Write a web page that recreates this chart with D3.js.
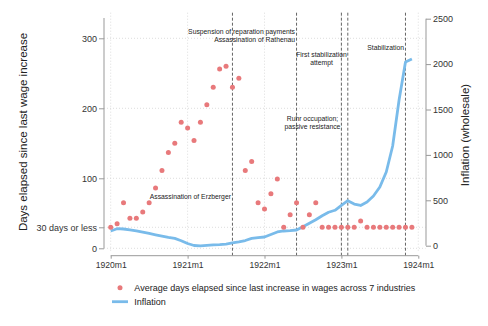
<!DOCTYPE html>
<html>
<head>
<meta charset="utf-8">
<script src="https://cdn.jsdelivr.net/npm/d3@7"></script>
<style>
  html, body { margin: 0; padding: 0; background: #fff; }
  svg { display: block; font-family: "Liberation Sans", Arial, sans-serif; }
</style>
</head>
<body>
<div id="chart"></div>
<script>
// ---------- data ----------
const months = d3.range(48).map(i => `${1920 + Math.floor(i / 12)}m${(i % 12) + 1}`);
const daysElapsed = [
  30, 35, 65, 43, 43, 52, 65, 86, 111, 137, 150, 180,
  172, 154, 180, 205, 230, 256, 260, 230, 243, 111, 124, 65,
  56, 78, 99, 30, 48, 65, 30, 48, 65, 30, 30, 30,
  30, 30, 30, 39, 30, 30, 30, 30, 30, 30, 30, 30
];
const inflation = [
  162, 187, 184, 174, 163, 150, 135, 120, 106, 92, 80, 55,
  24, 2, -3, 3, 8, 12, 18, 30, 42, 57, 80, 90,
  96, 123, 151, 162, 165, 173, 209, 247, 286, 330, 368, 390,
  445, 496, 459, 443, 481, 547, 646, 812, 1098, 1605, 2023, 2056
];
const xTickLabels = ["1920m1", "1921m1", "1922m1", "1923m1", "1924m1"];
const leftTicks = [0, 30, 100, 200, 300];
const leftTickLabels = ["0", "30 days or less", "100", "200", "300"];
const rightTicks = [0, 500, 1000, 1500, 2000, 2500];
const eventMonths = ["1921m8", "1922m6", "1923m1", "1923m2", "1923m11"];
const eventLabels = [
  ["Assassination of Erzberger"],
  ["Suspension of reparation payments", "Assassination of Rathenau"],
  ["Ruhr occupation;", "passive resistance"],
  ["First stabilization", "attempt"],
  ["Stabilization"]
];
const eventLabelDays = [74, 309, 185, 276, 287]; // vertical placement on the days axis
const legendLabels = ["Average days elapsed since last increase in wages across 7 industries", "Inflation"];

// ---------- layout ----------
const W = 488, H = 326;
const dotColor = "#E8797B", lineColor = "#79BBEA";
const svg = d3.select("#chart").append("svg").attr("width", W).attr("height", H);

const mIndex = m => { const [y, mm] = m.split("m").map(Number); return (y - 1920) * 12 + mm - 1; };

const x = d3.scaleLinear().domain([0, 48]).range([110.7, 418.3]);
const yL = d3.scaleLinear().domain([0, 300]).range([248.3, 38.3]);
const yR = d3.scaleLinear().domain([0, 2500]).range([245.7, 18.7]);
const plotTop = 12.7, plotLeft = 104, plotRight = 425.5, plotBottom = 252;

// gridlines
const grid = svg.append("g").attr("stroke", "#d4d4d4").attr("stroke-width", 0.8).attr("stroke-dasharray", "1,2");
grid.selectAll("line.h").data(leftTicks).join("line")
  .attr("x1", plotLeft).attr("x2", plotRight).attr("y1", d => yL(d)).attr("y2", d => yL(d));
grid.selectAll("line.v").data(xTickLabels).join("line")
  .attr("x1", d => x(mIndex(d))).attr("x2", d => x(mIndex(d))).attr("y1", plotTop).attr("y2", plotBottom);

// event lines
const ev = svg.append("g");
ev.selectAll("line").data(eventMonths).join("line")
  .attr("x1", d => x(mIndex(d))).attr("x2", d => x(mIndex(d)))
  .attr("y1", plotTop).attr("y2", 255.7)
  .attr("stroke", "#555").attr("stroke-width", 0.9).attr("stroke-dasharray", "3,2");

// event labels
const anchors = ["end", "end", "middle", "middle", "end"];
const fs = 6.8, lh = 7.5;
eventLabels.forEach((lines, i) => {
  const lx = x(mIndex(eventMonths[i]));
  const cy = yL(eventLabelDays[i]);
  const g = svg.append("text").attr("font-size", fs).attr("fill", "#222");
  const anchor = anchors[i];
  lines.forEach((t, j) => {
    g.append("tspan").attr("x", 0).attr("y", cy + j * lh + fs * 0.35).text(t);
  });
  let ax = lx - 1.5;
  if (anchor === "middle") {
    const wmax = d3.max(g.selectAll("tspan").nodes(), n => n.getComputedTextLength());
    ax = lx - 1 - wmax / 2;
  }
  g.attr("text-anchor", anchor);
  g.selectAll("tspan").attr("x", ax);
});

// inflation line
svg.append("path").datum(inflation)
  .attr("fill", "none").attr("stroke", lineColor).attr("stroke-width", 2.8)
  .attr("stroke-linejoin", "round")
  .attr("d", d3.line().x((d, i) => x(i)).y(d => yR(d)));

// dots
svg.append("g").selectAll("circle").data(daysElapsed).join("circle")
  .attr("cx", (d, i) => x(i)).attr("cy", d => yL(d)).attr("r", 2.5)
  .attr("fill", dotColor);

// left axis
const axisColor = "#999";
const gl = svg.append("g").attr("transform", "translate(104,0)")
  .call(d3.axisLeft(yL).tickValues(leftTicks).tickFormat((d, i) => leftTickLabels[i]).tickSize(5).tickPadding(2));
gl.select(".domain").remove();
gl.append("line").attr("x1", 0).attr("x2", 0).attr("y1", 18).attr("y2", yL(0)).attr("stroke", axisColor);
gl.selectAll(".tick line").attr("stroke", axisColor);
gl.selectAll(".tick text").attr("font-size", 9).attr("fill", "#333").attr("font-family", "Liberation Sans, Arial, sans-serif");

// right axis
const gr = svg.append("g").attr("transform", "translate(426,0)")
  .call(d3.axisRight(yR).tickValues(rightTicks).tickFormat(d3.format("d")).tickSize(5).tickPadding(2));
gr.select(".domain").remove();
gr.append("line").attr("x1", 0).attr("x2", 0).attr("y1", yR(2500)).attr("y2", yR(0)).attr("stroke", axisColor);
gr.selectAll(".tick line").attr("stroke", axisColor);
gr.selectAll(".tick text").attr("font-size", 9).attr("fill", "#333").attr("font-family", "Liberation Sans, Arial, sans-serif");

// bottom axis
const gb = svg.append("g").attr("transform", "translate(0,255.7)")
  .call(d3.axisBottom(x).tickValues(xTickLabels.map(mIndex)).tickFormat((d, i) => xTickLabels[i]).tickSize(3).tickPadding(3));
gb.select(".domain").remove();
gb.append("line").attr("x1", x(0)).attr("x2", x(48)).attr("y1", 0).attr("y2", 0).attr("stroke", axisColor);
gb.selectAll(".tick line").attr("stroke", axisColor);
gb.selectAll(".tick text").attr("font-size", 8.6).attr("fill", "#333").attr("font-family", "Liberation Sans, Arial, sans-serif");

// axis titles
svg.append("text").attr("transform", "translate(22.7,132) rotate(-90)")
  .attr("text-anchor", "middle").attr("dominant-baseline", "central")
  .attr("font-size", 11.5).attr("fill", "#222").text("Days elapsed since last wage increase");
svg.append("text").attr("transform", "translate(465,135) rotate(-90)")
  .attr("text-anchor", "middle").attr("dominant-baseline", "central")
  .attr("font-size", 11.5).attr("fill", "#222").text("Inflation (wholesale)");

// legend
const lg = svg.append("g");
lg.append("circle").attr("cx", 120).attr("cy", 287.7).attr("r", 2.5).attr("fill", dotColor);
lg.append("line").attr("x1", 112).attr("x2", 128).attr("y1", 301.7).attr("y2", 301.7)
  .attr("stroke", lineColor).attr("stroke-width", 2.8);
lg.selectAll("text").data(legendLabels).join("text")
  .attr("x", 134.3).attr("y", (d, i) => 287.7 + i * 14).attr("dominant-baseline", "central")
  .attr("font-size", 9).attr("fill", "#222").text(d => d);
</script>
</body>
</html>
